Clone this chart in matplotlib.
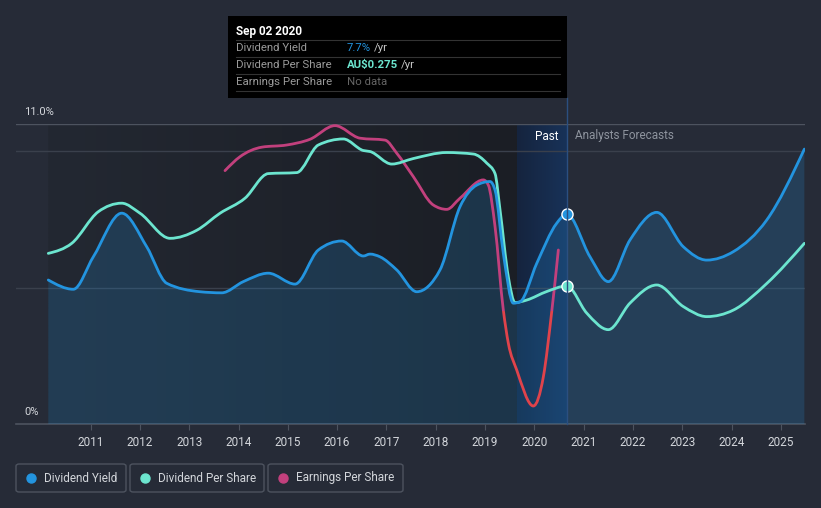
import matplotlib
matplotlib.use("Agg")
import matplotlib.pyplot as plt
import numpy as np
from matplotlib.patches import FancyBboxPatch, Rectangle, PathPatch
from matplotlib.path import Path
from matplotlib.lines import Line2D

# ---------------- data ----------------
yield_years = [2010.142, 2010.649, 2011.055, 2011.631, 2012.138, 2012.544, 2013.219, 2013.659,
               2014.097, 2014.604, 2015.146, 2015.619, 2016.093, 2016.531, 2016.667, 2016.870,
               2017.209, 2017.615, 2018.087, 2018.493, 2018.832, 2019.101, 2019.203, 2019.371,
               2019.574, 2019.710, 2020.049, 2020.454, 2020.657, 2021.130, 2021.501, 2021.941,
               2022.483, 2023.022, 2023.497, 2024.037, 2024.714, 2025.477]
yield_pct = [5.28, 4.94, 6.13, 7.73, 6.50, 5.16, 4.85, 4.81,
             5.22, 5.53, 5.13, 6.38, 6.71, 6.16, 6.23, 6.13,
             5.65, 4.85, 5.65, 7.97, 8.76, 8.89, 8.58, 6.26,
             4.43, 4.48, 5.89, 7.36, 7.70, 6.13, 5.22, 6.75,
             7.76, 6.50, 6.01, 6.32, 7.48, 10.08]

dps_years = [2010.142, 2010.617, 2011.156, 2011.631, 2012.002, 2012.611, 2013.152, 2013.625,
             2014.132, 2014.604, 2015.181, 2015.619, 2016.126, 2016.531, 2016.667, 2017.108,
             2017.546, 2018.223, 2018.763, 2019.034, 2019.203, 2019.304, 2019.473, 2019.609,
             2019.846, 2020.252, 2020.657, 2021.063, 2021.501, 2021.941, 2022.483, 2023.022,
             2023.497, 2024.037, 2024.714, 2025.477]
# dividend per share in AU$
dps_aud = [0.340, 0.360, 0.423, 0.440, 0.420, 0.370, 0.386, 0.420,
           0.450, 0.499, 0.501, 0.556, 0.568, 0.545, 0.543, 0.518,
           0.529, 0.541, 0.538, 0.520, 0.499, 0.427, 0.293, 0.242,
           0.247, 0.264, 0.275, 0.221, 0.188, 0.241, 0.277, 0.234,
           0.214, 0.227, 0.280, 0.360]
DPS_SCALE = 5.06 / 0.275  # position on shared axis

eps_years = [2013.726, 2014.030, 2014.471, 2014.978, 2015.450, 2015.957, 2016.464, 2016.971,
             2017.209, 2017.546, 2017.951, 2018.223, 2018.493, 2018.966, 2019.067, 2019.203,
             2019.371, 2019.473, 2019.643, 2019.980, 2020.183, 2020.353, 2020.487]
eps_level = [9.29, 9.80, 10.15, 10.23, 10.44, 10.94, 10.48, 10.41,
             9.93, 9.07, 8.03, 7.87, 8.28, 8.95, 8.76, 7.24,
             4.18, 2.96, 1.98, 0.66, 1.73, 4.12, 6.38]
EPS_ZERO = 4.14

year_ticks = list(range(2011, 2026))
now_year = 2020.657
past_start = 2010.142
band_start = 2019.649

# ---------------- style ----------------
BG = "#262b37"
BLUE = "#2394df"
TEAL = "#6ce5cf"
PINK = "#c2407d"
RED = "#e0434b"
TXT = "#d3d6db"
GRID = "#3a404c"
AXL = "#4d535f"


def monotone_verts(x, y):
    """Cubic Bezier vertices of a monotone-x curve through the given points."""
    x = np.asarray(x, float)
    y = np.asarray(y, float)
    n = len(x)
    h = np.diff(x)
    s = np.diff(y) / h
    m = np.zeros(n)
    for i in range(1, n - 1):
        p = (s[i - 1] * h[i] + s[i] * h[i - 1]) / (h[i - 1] + h[i])
        m[i] = (np.sign(s[i - 1]) + np.sign(s[i])) * min(abs(s[i - 1]), abs(s[i]), 0.5 * abs(p))
    m[0] = (3 * s[0] - m[1]) / 2
    m[-1] = (3 * s[-1] - m[-2]) / 2
    verts = [(x[0], y[0])]
    codes = [Path.MOVETO]
    for i in range(n - 1):
        d = h[i] / 3
        verts += [(x[i] + d, y[i] + m[i] * d), (x[i + 1] - d, y[i + 1] - m[i + 1] * d), (x[i + 1], y[i + 1])]
        codes += [Path.CURVE4] * 3
    return verts, codes


def curve(ax, x, y, color, lw=2.0, z=3):
    v, c = monotone_verts(x, y)
    p = PathPatch(Path(v, c), facecolor="none", edgecolor=color, lw=lw, zorder=z,
                  capstyle="round", joinstyle="round")
    ax.add_patch(p)
    return p


def area(ax, x, y, color, alpha, z=2):
    v, c = monotone_verts(x, y)
    v = v + [(x[-1], 0), (x[0], 0), (x[0], y[0])]
    c = c + [Path.LINETO, Path.LINETO, Path.CLOSEPOLY]
    p = PathPatch(Path(v, c), facecolor=color, edgecolor="none", alpha=alpha, zorder=z)
    ax.add_patch(p)
    return p


W, H = 821, 508
fig = plt.figure(figsize=(W / 100, H / 100), dpi=100, facecolor=BG)
ax = fig.add_axes([16 / W, 1 - 424 / H, 789 / W, 300 / H])
ax.set_facecolor(BG)
xmin, xmax = 2009.487, 2025.49
for s in ax.spines.values():
    s.set_visible(False)

# past region gradient
grad = np.linspace(0, 1, 256)[None, :]
c0 = np.array([35, 40, 50]) / 255
c1 = np.array([27, 30, 37]) / 255
img = c0[None, None, :] * (1 - grad[..., None]) + c1[None, None, :] * grad[..., None]
ax.imshow(img, extent=[past_start, band_start, 0, 11], aspect="auto", zorder=0.5, interpolation="bilinear")
b0 = np.array([21, 36, 62]) / 255
b1 = np.array([24, 50, 88]) / 255
img2 = b0[None, None, :] * (1 - grad[..., None]) + b1[None, None, :] * grad[..., None]
ax.imshow(img2, extent=[band_start, now_year, 0, 11], aspect="auto", zorder=0.6, interpolation="bilinear")
ax.set_xlim(xmin, xmax)
ax.set_ylim(0, 11)

# grid
for gy in (5, 10):
    ax.axhline(gy, color=GRID, lw=1.0, zorder=1)
ax.axhline(11, color=AXL, lw=1.0, zorder=1)
ax.axhline(0, color=AXL, lw=1.2, zorder=1, clip_on=False)

# fill under yield
area(ax, yield_years, yield_pct, BLUE, 0.2, z=2)

# lines
curve(ax, dps_years, list(np.array(dps_aud) * DPS_SCALE), TEAL, z=4)
curve(ax, yield_years, yield_pct, BLUE, z=5)
p1 = curve(ax, eps_years, eps_level, PINK, z=3)
p2 = curve(ax, eps_years, eps_level, RED, z=3)
r_above = Rectangle((xmin, EPS_ZERO), xmax - xmin, 11 - EPS_ZERO, transform=ax.transData)
r_below = Rectangle((xmin, -1), xmax - xmin, EPS_ZERO + 1, transform=ax.transData)
p1.set_clip_path(r_above)
p2.set_clip_path(r_below)

# markers at current date
ax.plot([now_year], [yield_pct[yield_years.index(now_year)]], "o", ms=8, mfc=BLUE, mec="white", mew=1.0, zorder=7)
ax.plot([now_year], [dps_aud[dps_years.index(now_year)] * DPS_SCALE], "o", ms=8, mfc=TEAL, mec="white", mew=1.0, zorder=7)

# ticks
ax.set_yticks([])
ax.set_xticks(year_ticks)
ax.set_xticklabels([str(y) for y in year_ticks], color=TXT, fontsize=8.5, family="Roboto")
ax.tick_params(axis="x", length=4, color=AXL, pad=5)


def fx(x):
    return x / W


def fy(y):
    return 1 - y / H


# y labels
fig.text(fx(24), fy(112), "11.0%", color=TXT, fontsize=8, family="Roboto", va="center", ha="left")
fig.text(fx(24), fy(412), "0%", color=TXT, fontsize=8, family="Roboto", va="center", ha="left")

# past / forecast labels
fig.text(fx(559), fy(136), "Past", color="white", fontsize=8.5, family="Roboto", va="center", ha="right")
fig.text(fx(575), fy(136), "Analysts Forecasts", color="#8e949e", fontsize=8.5, family="Roboto", va="center", ha="left")

# cursor line
fig.add_artist(Line2D([fx(567), fx(567)], [fy(98), fy(424)], color="#2b4f80", lw=1.0, zorder=1))

# tooltip
fig.add_artist(Rectangle((fx(228), fy(98)), (567 - 228) / W, (98 - 16) / H, facecolor="black",
                         edgecolor="none", transform=fig.transFigure, zorder=10))
fig.text(fx(236), fy(31), "Sep 02 2020", color="white", fontsize=8.5, family="Roboto",
         weight="bold", va="center", ha="left", zorder=11)
for ly in (40, 57, 74, 91):
    fig.add_artist(Line2D([fx(236), fx(560)], [fy(ly), fy(ly)], color="#333333", lw=0.8, zorder=11))
rows = [("Dividend Yield", 48), ("Dividend Per Share", 65), ("Earnings Per Share", 82)]
for lab, yy in rows:
    fig.text(fx(236), fy(yy), lab, color="#9a9a9a", fontsize=8.2, family="Roboto", va="center", ha="left", zorder=11)

fig.canvas.draw()
renderer = fig.canvas.get_renderer()
t1 = fig.text(fx(347), fy(48), "7.7%", color=BLUE, fontsize=8.2, family="Roboto", va="center", ha="left", zorder=11)
t2 = fig.text(fx(347), fy(65), "AU$0.275", color=TEAL, fontsize=8.2, family="Roboto", weight="bold",
              va="center", ha="left", zorder=11)
fig.text(fx(347), fy(82), "No data", color="#666666", fontsize=8.2, family="Roboto", va="center", ha="left", zorder=11)
for t, yy in ((t1, 48), (t2, 65)):
    bb = t.get_window_extent(renderer)
    fig.text(bb.x1 / W + 3 / W, fy(yy), "/yr", color="#c8c8c8", fontsize=8.2, family="Roboto",
             va="center", ha="left", zorder=11)

# legend
legend_items = [("Dividend Yield", BLUE, 16, 126), ("Dividend Per Share", TEAL, 130, 264),
                ("Earnings Per Share", PINK, 268, 403)]
for lab, col, x0, x1 in legend_items:
    fig.add_artist(FancyBboxPatch((fx(x0), fy(492)), (x1 - x0) / W, 28 / H,
                                  boxstyle="round,pad=0,rounding_size=0.004", facecolor=BG,
                                  edgecolor=AXL, lw=1.0, transform=fig.transFigure))
    fig.add_artist(Line2D([fx(x0 + 15)], [fy(478)], marker="o", ms=6.5, color=col, mec=col, lw=0))
    fig.text(fx(x0 + 28), fy(478), lab, color=TXT, fontsize=8.5, family="Roboto", va="center", ha="left")

fig.savefig("out.png", dpi=100, facecolor=BG)
